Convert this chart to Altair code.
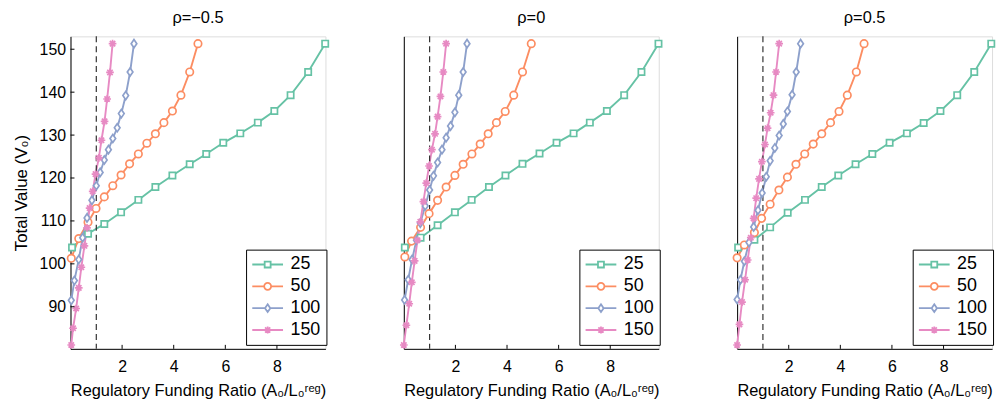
import altair as alt
import pandas as pd

series = ["25", "50", "100", "150"]
colors = ["#66c2a5", "#fc8d62", "#8da0cb", "#e78ac3"]
panels = ["ρ=−0.5", "ρ=0", "ρ=0.5"]
xticks = [2, 4, 6, 8]
yticks = [90, 100, 110, 120, 130, 140, 150]

# ---- panel rho = -0.5 ----
p1_25_x = [9.87, 9.21, 8.53, 7.90, 7.26, 6.58, 5.92, 5.26, 4.62, 3.95, 3.29, 2.63, 1.96, 1.31, 0.68, 0.06]
p1_25_y = [151.3, 144.7, 139.3, 135.6, 132.9, 130.4, 128.2, 125.6, 123.2, 120.6, 117.9, 114.9, 112.0, 109.3, 107.0, 103.8]
p1_50_x = [4.94, 4.62, 4.28, 3.95, 3.62, 3.29, 2.96, 2.63, 2.29, 1.96, 1.64, 1.31, 0.99, 0.68, 0.32, 0.03]
p1_50_y = [151.3, 144.7, 139.3, 135.6, 132.9, 130.3, 128.1, 125.6, 123.3, 120.7, 118.2, 115.6, 112.9, 109.7, 105.9, 101.3]
p1_100_x = [2.46, 2.31, 2.14, 1.97, 1.81, 1.64, 1.47, 1.31, 1.15, 1.00, 0.83, 0.64, 0.47, 0.32, 0.15, 0.03]
p1_100_y = [151.3, 144.7, 139.2, 135.0, 131.7, 129.2, 126.6, 124.2, 121.3, 118.2, 114.8, 110.7, 106.1, 101.0, 96.1, 91.5]
p1_150_x = [1.63, 1.53, 1.42, 1.32, 1.20, 1.10, 0.97, 0.86, 0.74, 0.64, 0.54, 0.42, 0.32, 0.22, 0.10, 0.03]
p1_150_y = [151.3, 144.6, 138.4, 133.2, 128.8, 124.7, 120.9, 116.9, 113.0, 108.4, 104.2, 99.2, 94.4, 89.6, 85.0, 81.1]

# ---- panel rho = 0 ----
p2_25_x = [9.87, 9.21, 8.54, 7.87, 7.21, 6.58, 5.92, 5.26, 4.60, 3.94, 3.30, 2.63, 1.98, 1.31, 0.65, 0.04]
p2_25_y = [151.3, 144.7, 139.3, 135.6, 132.9, 130.4, 128.2, 125.7, 123.3, 120.6, 117.9, 114.9, 112.0, 109.0, 106.1, 103.8]
p2_50_x = [4.94, 4.60, 4.26, 3.93, 3.59, 3.27, 2.96, 2.64, 2.30, 1.98, 1.64, 1.31, 0.98, 0.65, 0.30, 0.04]
p2_50_y = [151.3, 144.7, 139.3, 135.5, 132.9, 130.3, 127.9, 125.6, 123.2, 120.6, 117.9, 114.8, 111.7, 108.5, 105.3, 101.6]
p2_100_x = [2.45, 2.30, 2.13, 1.98, 1.81, 1.64, 1.48, 1.31, 1.15, 1.00, 0.83, 0.64, 0.49, 0.32, 0.17, 0.03]
p2_100_y = [151.3, 144.7, 139.3, 135.3, 132.1, 129.4, 126.6, 123.6, 120.5, 117.2, 113.5, 109.5, 105.5, 101.0, 96.3, 91.6]
p2_150_x = [1.64, 1.53, 1.42, 1.31, 1.21, 1.09, 0.98, 0.87, 0.76, 0.64, 0.53, 0.42, 0.31, 0.21, 0.10, 0.00]
p2_150_y = [151.3, 144.7, 139.0, 134.3, 130.3, 126.6, 122.8, 118.8, 114.5, 109.8, 105.5, 100.7, 95.7, 90.7, 85.7, 81.1]

# ---- panel rho = 0.5 ----
p3_25_x = [9.85, 9.19, 8.53, 7.88, 7.23, 6.58, 5.91, 5.24, 4.59, 3.92, 3.28, 2.63, 1.96, 1.28, 0.67, 0.04]
p3_25_y = [151.3, 144.7, 139.3, 135.6, 132.8, 130.4, 128.2, 125.6, 123.2, 120.6, 117.9, 114.9, 111.9, 108.5, 105.6, 103.8]
p3_50_x = [4.92, 4.62, 4.27, 3.95, 3.62, 3.28, 2.95, 2.62, 2.28, 1.95, 1.62, 1.28, 0.95, 0.67, 0.28, 0.00]
p3_50_y = [151.3, 144.7, 139.3, 135.5, 132.9, 130.3, 127.9, 125.6, 123.2, 120.2, 117.2, 113.9, 110.6, 107.3, 104.4, 101.4]
p3_100_x = [2.46, 2.29, 2.13, 1.95, 1.79, 1.63, 1.46, 1.28, 1.13, 0.97, 0.81, 0.64, 0.46, 0.28, 0.13, 0.00]
p3_100_y = [151.3, 144.7, 139.4, 135.5, 132.6, 129.9, 127.0, 124.0, 120.3, 116.5, 112.5, 108.6, 105.0, 100.6, 96.3, 91.7]
p3_150_x = [1.63, 1.51, 1.41, 1.30, 1.18, 1.08, 0.96, 0.85, 0.74, 0.64, 0.53, 0.41, 0.31, 0.19, 0.09, 0.00]
p3_150_y = [151.3, 144.7, 139.3, 135.2, 131.6, 127.8, 123.8, 119.8, 115.3, 110.6, 106.1, 100.9, 96.3, 91.1, 85.9, 81.1]

data = {
    panels[0]: {"25": (p1_25_x, p1_25_y), "50": (p1_50_x, p1_50_y), "100": (p1_100_x, p1_100_y), "150": (p1_150_x, p1_150_y)},
    panels[1]: {"25": (p2_25_x, p2_25_y), "50": (p2_50_x, p2_50_y), "100": (p2_100_x, p2_100_y), "150": (p2_150_x, p2_150_y)},
    panels[2]: {"25": (p3_25_x, p3_25_y), "50": (p3_50_x, p3_50_y), "100": (p3_100_x, p3_100_y), "150": (p3_150_x, p3_150_y)},
}

rows = []
for p, sd in data.items():
    for s, (xs, ys) in sd.items():
        for i, (xv, yv) in enumerate(zip(xs, ys)):
            rows.append({"panel": p, "series": s, "idx": i, "x": xv, "y": yv})
df = pd.DataFrame(rows)

FONT = "Liberation Sans"

# plot marker shapes
marker_shapes = {
    "25": ("square", 40),
    "50": ("circle", 56),
    "100": ("M0,-1.3L0.9,0L0,1.3L-0.9,0Z", 40),
    "150": ("M-1,0H1M0,-1V1M-0.7,-0.7L0.7,0.7M-0.7,0.7L0.7,-0.7", 60),
}
# legend symbols: line + marker (unit = 4px)
legend_paths = [
    "M-3.875,0H-0.75M0.75,0H3.875M-0.75,-0.75H0.75V0.75H-0.75Z",
    "M-3.875,0H-0.875M0.875,0H3.875M-0.875,0A0.875,0.875,0,1,1,0.875,0A0.875,0.875,0,1,1,-0.875,0Z",
    "M-3.875,0H-0.675M0.675,0H3.875M0,-0.975L0.675,0L0,0.975L-0.675,0Z",
    "M-3.875,0H3.875M0,-0.9V0.9M-0.65,-0.65L0.65,0.65M-0.65,0.65L0.65,-0.65",
]

W, H = 257, 315
xscale = alt.Scale(domain=[0, 9.88], nice=False, zero=False)
yscale = alt.Scale(domain=[80.2, 153], nice=False, zero=False)
cscale = alt.Scale(domain=series, range=colors)
sscale = alt.Scale(domain=series, range=legend_paths)

legend = alt.Legend(
    title=None, orient="none", legendX=177, legendY=215, padding=6,
    strokeColor="black", fillColor="white", labelFont=FONT, labelFontSize=18,
    labelColor="black", labelOffset=14, symbolOffset=6.75, symbolSize=64,
    symbolStrokeWidth=1.8, rowPadding=4,
)


def make_panel(k):
    p = panels[k]
    first = k == 0
    d = df[df["panel"] == p]
    base = alt.Chart(d)
    xaxis = alt.Axis(
        values=xticks, tickSize=0, labelPadding=10, grid=False, domainColor="black",
        domainWidth=1, labelFont=FONT, labelFontSize=16, labelColor="black",
        title="Regulatory Funding Ratio (A₀/L₀ʳᵉᵍ)", titleFont=FONT, titleFontSize=16.5,
        titleFontWeight="normal", titleColor="black", titlePadding=8,
    )
    if first:
        yaxis = alt.Axis(
            values=yticks, tickSize=0, labelPadding=5, grid=False, domainColor="black",
            domainWidth=1, labelFont=FONT, labelFontSize=16, labelColor="black",
            title="Total Value (V₀)", titleFont=FONT, titleFontSize=17,
            titleFontWeight="normal", titleColor="black", titlePadding=9,
        )
    else:
        yaxis = alt.Axis(labels=False, ticks=False, title=None, grid=False,
                         domainColor="black", domainWidth=1)

    layers = []
    for j, (s, c) in enumerate(zip(series, colors)):
        if j == 0:
            enc = dict(x=alt.X("x:Q", scale=xscale, axis=xaxis),
                       y=alt.Y("y:Q", scale=yscale, axis=yaxis))
        else:
            enc = dict(x=alt.X("x:Q", scale=xscale), y=alt.Y("y:Q", scale=yscale))
        ln = base.transform_filter(alt.datum.series == s).mark_line(
            strokeWidth=1.9, color=c
        ).encode(order=alt.Order("idx:Q"), **enc)
        layers.append(ln)

    dash = alt.Chart(pd.DataFrame({"v": [1]})).mark_rule(
        strokeDash=[6, 4], color="#333333", strokeWidth=1.2
    ).encode(x=alt.X("v:Q", scale=xscale))
    layers.append(dash)

    for s, c in zip(series, colors):
        shp, sz = marker_shapes[s]
        pts = base.transform_filter(alt.datum.series == s).mark_point(
            shape=shp, size=sz, filled=True, fill="white", stroke=c,
            strokeWidth=1.7, opacity=1,
        ).encode(x=alt.X("x:Q", scale=xscale), y=alt.Y("y:Q", scale=yscale))
        layers.append(pts)

    xt = alt.Chart(pd.DataFrame({"v": xticks})).mark_rule(color="black", strokeWidth=1).encode(
        x=alt.X("v:Q", scale=xscale), y=alt.value(H), y2=alt.value(H - 4)
    )
    layers.append(xt)
    if first:
        yt = alt.Chart(pd.DataFrame({"v": yticks})).mark_rule(color="black", strokeWidth=1).encode(
            y=alt.Y("v:Q", scale=yscale), x=alt.value(0), x2=alt.value(4)
        )
        layers.append(yt)

    leg = base.transform_filter("false").mark_point(filled=False, opacity=1, strokeWidth=1.8).encode(
        x=alt.X("x:Q", scale=xscale),
        y=alt.Y("y:Q", scale=yscale),
        color=alt.Color("series:N", scale=cscale, legend=legend),
        shape=alt.Shape("series:N", scale=sscale, legend=legend),
    )
    layers.append(leg)

    return alt.layer(*layers).properties(
        width=W, height=H,
        title=alt.TitleParams(p, font=FONT, fontSize=16.5, fontWeight="normal",
                              color="black", offset=9),
    )


chart = alt.hconcat(
    make_panel(0), make_panel(1), make_panel(2), spacing=79, bounds="flush"
).resolve_scale(
    color="independent", shape="independent"
).properties(
    padding={"left": 3, "top": 0, "right": 0, "bottom": 0}
).configure_view(stroke=None).configure(background="white")

chart.save("out.html", embed_options={"renderer": "svg", "actions": False})
